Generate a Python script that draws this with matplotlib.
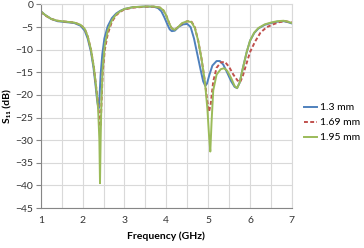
import matplotlib
matplotlib.use("Agg")
import matplotlib.pyplot as plt

plt.rcParams['font.family'] = ['Lato', 'DejaVu Sans']

labels = ["1.3 mm", "1.69 mm", "1.95 mm"]
colors = ["#4F81BD", "#C0504D", "#9BBB59"]
styles = ["-", "--", "-"]

f_a = [1.0, 1.1, 1.25, 1.4, 1.6, 1.8, 1.95, 2.05, 2.12, 2.2, 2.26, 2.31, 2.35, 2.38, 2.4,
       2.43, 2.47, 2.52, 2.6, 2.7, 2.8, 2.9, 3.0, 3.2, 3.5, 3.7, 3.8, 3.88, 3.95, 4.02,
       4.08, 4.13, 4.2, 4.3, 4.4, 4.5, 4.58, 4.66, 4.74, 4.82, 4.88, 4.93, 4.97, 5.03,
       5.1, 5.2, 5.28, 5.36, 5.45, 5.55, 5.63, 5.69, 5.75, 5.83, 5.92, 6.0, 6.1, 6.2,
       6.35, 6.5, 6.65, 6.8, 6.9, 7.0]
s_a = [-1.5, -2.3, -3.2, -3.7, -3.9, -4.1, -4.7, -5.8, -7.5, -10.5, -14, -18, -21.5, -23, -21,
       -15.5, -11, -7.5, -4.8, -3.0, -2.0, -1.4, -1.0, -0.6, -0.45, -0.5, -0.8, -1.5, -2.8, -4.3,
       -5.5, -5.9, -5.8, -4.9, -4.4, -4.3, -5.0, -7.5, -11, -14.5, -17, -18, -17.5, -15.5,
       -13.5, -12.5, -12.5, -13.3, -15, -17, -18.2, -18.5, -17.3, -14, -10.5, -8, -6.3, -5.3,
       -4.5, -4.1, -3.8, -3.7, -3.9, -4.2]

f_b = [1.0, 1.1, 1.25, 1.4, 1.6, 1.8, 1.95, 2.05, 2.12, 2.2, 2.27, 2.32, 2.37, 2.41, 2.43,
       2.45, 2.48, 2.53, 2.6, 2.7, 2.8, 2.9, 3.0, 3.2, 3.5, 3.7, 3.85, 3.93, 4.0, 4.07,
       4.13, 4.2, 4.28, 4.38, 4.5, 4.6, 4.68, 4.76, 4.84, 4.92, 4.98, 5.02, 5.06, 5.12,
       5.2, 5.3, 5.4, 5.5, 5.6, 5.7, 5.76, 5.82, 5.9, 6.0, 6.12, 6.25, 6.4, 6.55, 6.7,
       6.85, 7.0]
s_b = [-1.6, -2.4, -3.2, -3.6, -3.8, -4.0, -4.5, -5.4, -7.0, -10, -14, -18, -22, -26, -27,
       -22, -15, -10, -6.5, -3.8, -2.4, -1.6, -1.1, -0.7, -0.5, -0.5, -0.7, -1.3, -2.5, -4.2,
       -5.3, -5.6, -5.0, -4.2, -3.7, -3.8, -5.0, -8, -12, -17, -21.5, -23.7, -22, -17,
       -14, -12.8, -12.7, -13.8, -15.5, -16.8, -17.2, -16, -13.5, -10.5, -8.2, -6.2, -5.0, -4.4, -3.9,
       -3.7, -4.0]

f_c = [1.0, 1.1, 1.25, 1.4, 1.6, 1.8, 1.95, 2.05, 2.12, 2.2, 2.27, 2.32, 2.37, 2.4, 2.415,
       2.43, 2.45, 2.48, 2.53, 2.6, 2.7, 2.8, 2.9, 3.0, 3.2, 3.5, 3.7, 3.85, 3.93, 4.0,
       4.07, 4.13, 4.2, 4.28, 4.38, 4.5, 4.6, 4.68, 4.76, 4.84, 4.92, 4.98, 5.02, 5.05,
       5.08, 5.12, 5.2, 5.3, 5.38, 5.45, 5.55, 5.63, 5.69, 5.75, 5.83, 5.92, 6.0, 6.1,
       6.2, 6.35, 6.5, 6.65, 6.8, 6.9, 7.0]
s_c = [-1.5, -2.3, -3.2, -3.6, -3.8, -4.0, -4.5, -5.4, -7.0, -10, -14, -18, -23, -30, -39.5,
       -30, -21, -14, -9, -5.8, -3.5, -2.2, -1.5, -1.0, -0.6, -0.45, -0.45, -0.7, -1.3, -2.5,
       -4.2, -5.3, -5.6, -5.0, -4.1, -3.7, -3.9, -5.2, -8, -12, -17, -23, -29, -32.5,
       -26, -19, -15.5, -14.3, -14.1, -14.6, -16.3, -18, -18.5, -17.3, -14, -10.5, -8, -6.2,
       -5.2, -4.4, -4.0, -3.7, -3.6, -3.8, -4.1]

xticks = [1, 2, 3, 4, 5, 6, 7]
yticks = [0, -5, -10, -15, -20, -25, -30, -35, -40, -45]

fig = plt.figure(figsize=(3.64, 2.48), dpi=100)
ax = fig.add_axes([0.112, 0.161, 0.690, 0.821])

series = [(f_a, s_a), (f_b, s_b), (f_c, s_c)]
for (fx, sy), lab, col, ls in zip(series, labels, colors, styles):
    ax.plot(fx, sy, color=col, linestyle=ls, linewidth=1.4, label=lab,
            dashes=(2, 1.2) if ls == "--" else (None, None), solid_joinstyle='round')

ax.set_xlim(1, 7)
ax.set_ylim(-45, 0)
ax.set_xticks(xticks)
ax.set_yticks(yticks)
ax.set_xticks([1.5, 2.5, 3.5, 4.5, 5.5, 6.5], minor=True)
ax.grid(True, which='both', color='#D9D9D9', linewidth=0.8)
ax.set_axisbelow(True)
ax.tick_params(axis='both', which='major', labelsize=7.5, color='#868686',
               labelcolor='#333333')
ax.tick_params(axis='y', which='major', length=3.5, pad=2)
ax.tick_params(axis='x', which='major', length=0, pad=6)
ax.tick_params(axis='both', which='minor', length=0)
for side in ['left', 'bottom']:
    ax.spines[side].set_color('#868686')
    ax.spines[side].set_linewidth(0.8)
for side in ['top', 'right']:
    ax.spines[side].set_color('#D9D9D9')
    ax.spines[side].set_linewidth(0.8)

ax.set_xlabel("Frequency (GHz)", fontsize=7.5, fontweight='bold', labelpad=4)
ax.set_ylabel("S₁₁ (dB)", fontsize=7.5, fontweight='bold', labelpad=2)

fig.legend(loc='center left', bbox_to_anchor=(0.835, 0.505), frameon=False,
           fontsize=7.5, handlelength=1.3, handletextpad=0.2, labelspacing=0.55,
           borderaxespad=0, borderpad=0)

fig.savefig("out.png", dpi=100)
